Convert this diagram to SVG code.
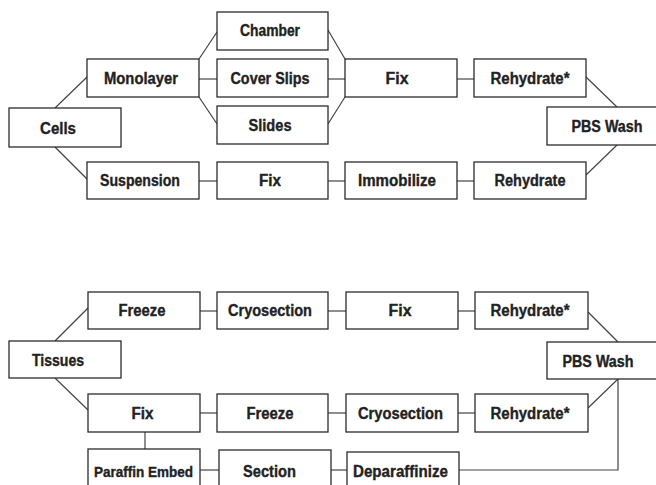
<svg xmlns="http://www.w3.org/2000/svg" width="656" height="485" viewBox="0 0 656 485">
<style>
.box rect{fill:#fff;stroke:#2b2b2b;stroke-width:1.3}
.box text{font-family:"Liberation Sans",Arial,sans-serif;font-weight:bold;font-size:16px;fill:#222;stroke:#222;stroke-width:0.35;text-anchor:middle}
#connectors path{fill:none;stroke:#444;stroke-width:1.2}
</style>
<rect width="656" height="485" fill="#fff"/>
<g id="connectors">
<path d="M55,108 L87,77"/>
<path d="M55,147 L87,179"/>
<path d="M199,59 L217,32"/>
<path d="M199,79 L217,79"/>
<path d="M199,97 L217,124"/>
<path d="M328,30 L345,59"/>
<path d="M328,79 L345,79"/>
<path d="M328,124 L345,97"/>
<path d="M457,79 L474,79"/>
<path d="M586,77 L617,107"/>
<path d="M617,145 L586,175"/>
<path d="M199,181 L217,181"/>
<path d="M328,181 L345,181"/>
<path d="M457,181 L474,181"/>
<path d="M55,341 L88,308"/>
<path d="M55,378 L88,410"/>
<path d="M200,311 L217,311"/>
<path d="M328,311 L346,311"/>
<path d="M458,311 L475,311"/>
<path d="M588,312 L618,342"/>
<path d="M618,379 L588,408"/>
<path d="M200,413 L217,413"/>
<path d="M328,413 L346,413"/>
<path d="M458,413 L475,413"/>
<path d="M145,432 L145,450"/>
<path d="M200,470 L219,470"/>
<path d="M331,470 L347,470"/>
<path d="M459,470 L618,470 L618,379"/>
</g>
<g id="cells" class="box"><rect x="9" y="108" width="112" height="39"/><text x="58" y="134" textLength="36" lengthAdjust="spacingAndGlyphs">Cells</text></g>
<g id="monolayer" class="box"><rect x="87" y="59" width="112" height="38"/><text x="141" y="83.5" textLength="74" lengthAdjust="spacingAndGlyphs">Monolayer</text></g>
<g id="suspension" class="box"><rect x="87" y="162" width="112" height="37"/><text x="140" y="186" textLength="80" lengthAdjust="spacingAndGlyphs">Suspension</text></g>
<g id="chamber" class="box"><rect x="217" y="12" width="111" height="38"/><text x="270" y="36" textLength="60" lengthAdjust="spacingAndGlyphs">Chamber</text></g>
<g id="coverslips" class="box"><rect x="217" y="59" width="111" height="38"/><text x="270" y="83.5" textLength="79" lengthAdjust="spacingAndGlyphs">Cover Slips</text></g>
<g id="slides" class="box"><rect x="217" y="106" width="111" height="38"/><text x="270" y="130.5" textLength="43" lengthAdjust="spacingAndGlyphs">Slides</text></g>
<g id="fix-susp" class="box"><rect x="217" y="162" width="111" height="37"/><text x="270" y="186" textLength="22" lengthAdjust="spacingAndGlyphs">Fix</text></g>
<g id="fix-mono" class="box"><rect x="345" y="59" width="112" height="38"/><text x="397" y="83.5" textLength="23" lengthAdjust="spacingAndGlyphs">Fix</text></g>
<g id="immobilize" class="box"><rect x="345" y="162" width="112" height="37"/><text x="397" y="186" textLength="78" lengthAdjust="spacingAndGlyphs">Immobilize</text></g>
<g id="rehydrate-star" class="box"><rect x="474" y="59" width="112" height="38"/><text x="530" y="83.5" textLength="79" lengthAdjust="spacingAndGlyphs">Rehydrate*</text></g>
<g id="rehydrate" class="box"><rect x="474" y="162" width="112" height="37"/><text x="530" y="186" textLength="71" lengthAdjust="spacingAndGlyphs">Rehydrate</text></g>
<g id="pbs-top" class="box"><rect x="547" y="107" width="112" height="38"/><text x="607" y="131.5" textLength="71" lengthAdjust="spacingAndGlyphs">PBS Wash</text></g>
<g id="tissues" class="box"><rect x="9" y="341" width="112" height="37"/><text x="58" y="365.5" textLength="52" lengthAdjust="spacingAndGlyphs">Tissues</text></g>
<g id="freeze1" class="box"><rect x="88" y="292" width="112" height="37"/><text x="142" y="316" textLength="47" lengthAdjust="spacingAndGlyphs">Freeze</text></g>
<g id="cryo1" class="box"><rect x="217" y="292" width="111" height="37"/><text x="270" y="316" textLength="84" lengthAdjust="spacingAndGlyphs">Cryosection</text></g>
<g id="fix-t1" class="box"><rect x="346" y="292" width="112" height="37"/><text x="400" y="316" textLength="23" lengthAdjust="spacingAndGlyphs">Fix</text></g>
<g id="rehyd-t1" class="box"><rect x="475" y="292" width="113" height="37"/><text x="530" y="316" textLength="79" lengthAdjust="spacingAndGlyphs">Rehydrate*</text></g>
<g id="pbs-bottom" class="box"><rect x="547" y="342" width="112" height="37"/><text x="598" y="366.5" textLength="71" lengthAdjust="spacingAndGlyphs">PBS Wash</text></g>
<g id="fix-t2" class="box"><rect x="88" y="394" width="112" height="38"/><text x="142.5" y="418.5" textLength="22" lengthAdjust="spacingAndGlyphs">Fix</text></g>
<g id="freeze2" class="box"><rect x="217" y="394" width="111" height="38"/><text x="270" y="418.5" textLength="47" lengthAdjust="spacingAndGlyphs">Freeze</text></g>
<g id="cryo2" class="box"><rect x="346" y="394" width="112" height="38"/><text x="400.5" y="418.5" textLength="85" lengthAdjust="spacingAndGlyphs">Cryosection</text></g>
<g id="rehyd-t2" class="box"><rect x="475" y="394" width="113" height="38"/><text x="530" y="418.5" textLength="79" lengthAdjust="spacingAndGlyphs">Rehydrate*</text></g>
<g id="paraffin" class="box"><rect x="88" y="449" width="112" height="45"/><text x="143.5" y="476.5" style="font-size:14px" textLength="99" lengthAdjust="spacingAndGlyphs">Paraffin Embed</text></g>
<g id="section" class="box"><rect x="219" y="450" width="112" height="45"/><text x="269.5" y="476.5" textLength="53" lengthAdjust="spacingAndGlyphs">Section</text></g>
<g id="deparaffinize" class="box"><rect x="347" y="452" width="112" height="45"/><text x="400.5" y="477" textLength="95" lengthAdjust="spacingAndGlyphs">Deparaffinize</text></g>
</svg>
